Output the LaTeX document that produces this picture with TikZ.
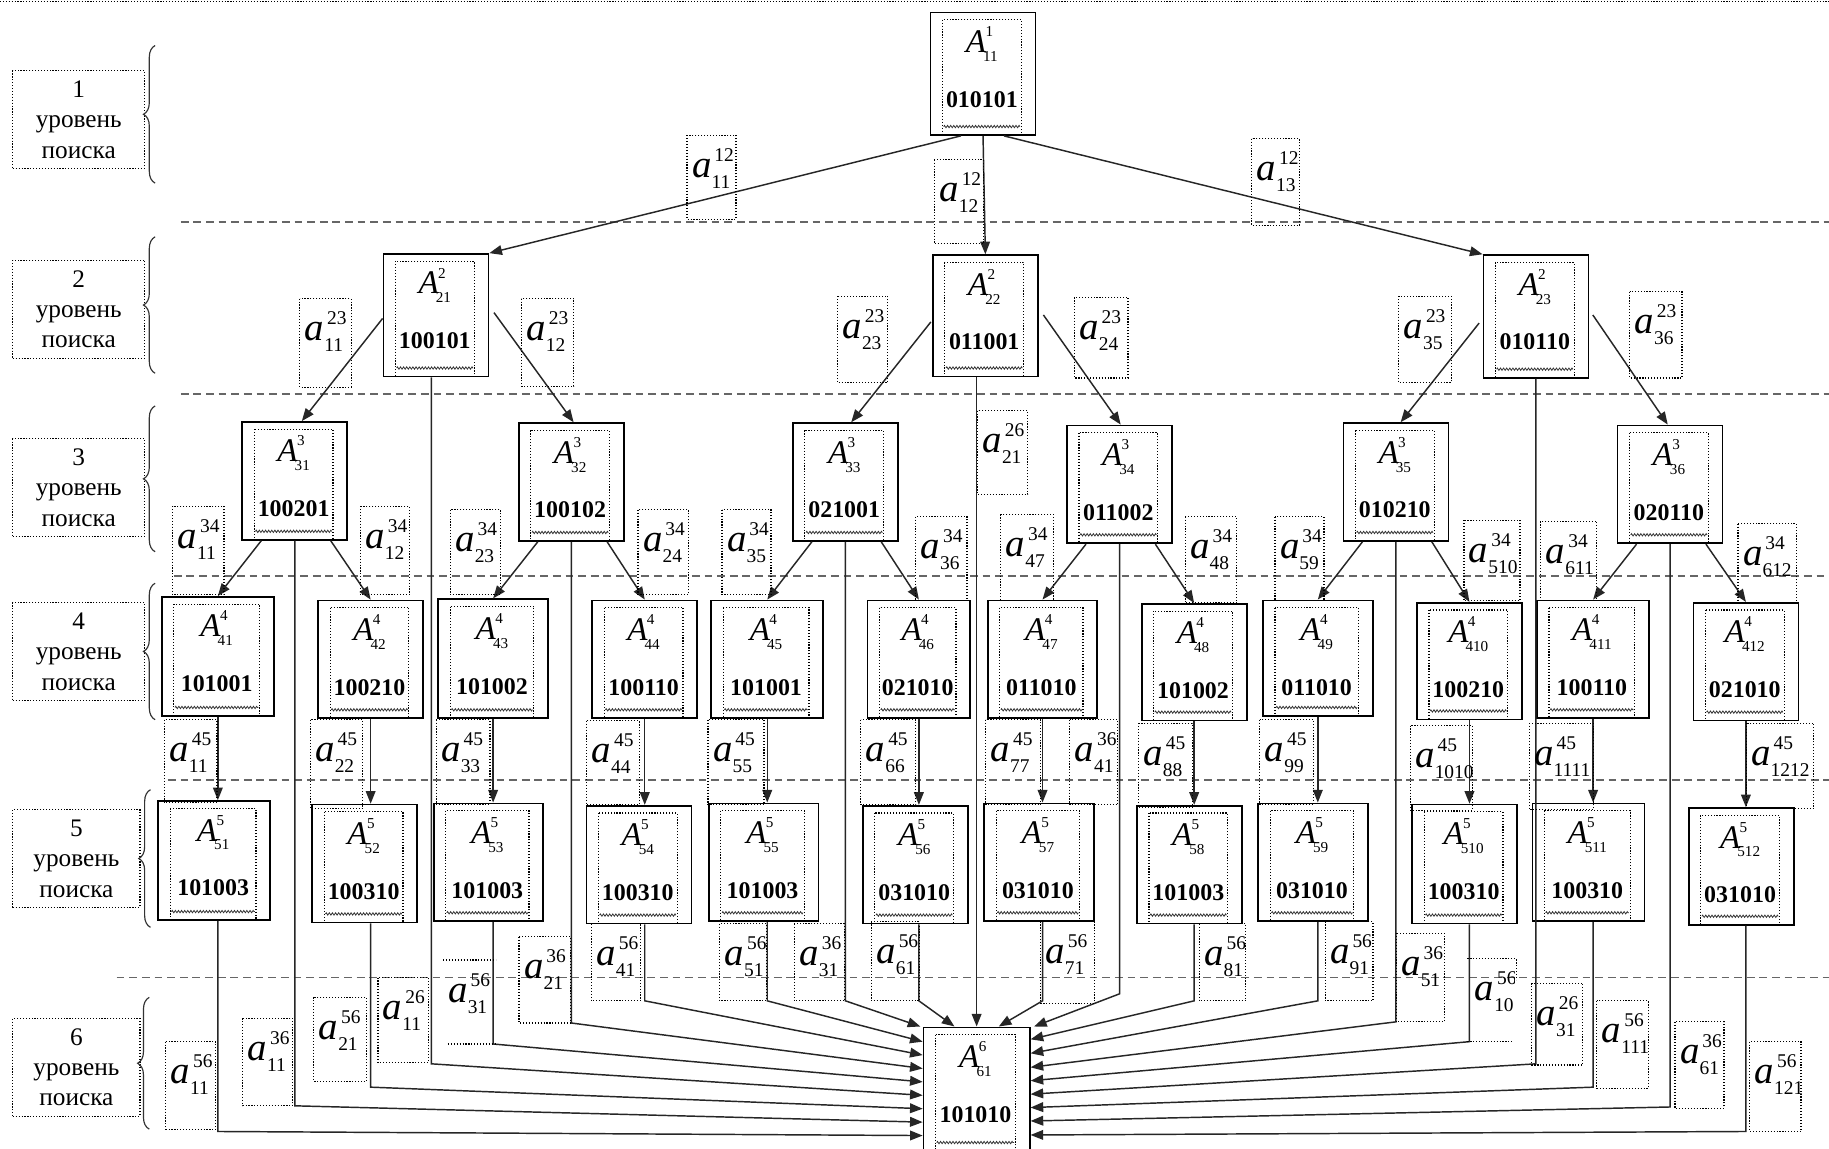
\documentclass[tikz,border=0pt]{standalone}
\usepackage{fontspec}
\setmainfont{Liberation Serif}
\usetikzlibrary{calc,arrows.meta,decorations.pathreplacing,decorations.pathmorphing}
\newcommand{\Alab}[2]{{\fontsize{17}{17}\selectfont\itshape A}\kern-1.5pt\rlap{\raisebox{8.2pt}{\fontsize{7.8}{8}\selectfont\kern1.2pt #1}}\raisebox{-4.6pt}{\fontsize{7.8}{8}\selectfont #2}}
\newcommand{\alab}[2]{{\fontsize{20}{20}\selectfont\itshape a}\rlap{\raisebox{8.2pt}{\fontsize{10}{10}\selectfont\kern1.5pt #1}}\raisebox{-5.7pt}{\fontsize{10}{10}\selectfont #2}}
\newcommand{\codefont}{\fontsize{12.3}{12.3}\selectfont\bfseries}
\tikzset{
  conn/.style={line width=0.75pt, draw=black!85},
  arr/.style={conn, -{Triangle[length=6.5pt,width=5pt]}},
  sep/.style={line width=1pt, draw=black!60, dash pattern=on 4pt off 2.5pt},
  frm/.style={draw=black, line width=0.6pt, dash pattern=on 0.6pt off 0.9pt},
  wavy/.style={draw=black!80, line width=0.4pt, decorate, decoration={zigzag, amplitude=0.6pt, segment length=1.6pt}},
  outerbox/.style={draw=black, fill=white, line width=0.9pt, inner sep=0pt},
  lvl/.style={frm, align=center, font=\fontsize{13}{15.6}\selectfont, minimum height=50.4pt, inner sep=0pt},
  brc/.style={draw=black!80, line width=0.6pt, decorate, decoration={brace, amplitude=6pt}},
}
\newcommand{\mybox}[8]{%
  \node[outerbox, anchor=north west, minimum width=#4*0.6pt, minimum height=#5*0.6pt] (#1) at (#2,#3) {};
  \draw[frm] ($(#1.north west)+(11,7)$) rectangle ($(#1.south east)+(-13,-1)$);
  \draw[wavy] ($(#1.south west)+(12,-8)$) -- ($(#1.south east)+(-14,-8)$);
  \node[anchor=base, inner sep=0pt] (#1-l) at ($(#1.north)+(-1,35)$) {\Alab{#6}{#7}};
  \node[anchor=base, inner sep=0pt, font=\codefont] (#1-c) at ($(#1.north)+(-1,82)$) {#8};
}
\newcommand{\mylab}[7]{%
  \draw[frm] (#2,#3) rectangle (#4,#5);
  \node[anchor=base west, inner sep=0pt] (#1) at ($(#2,#3)+(4,36)$) {\alab{#6}{#7}};
}
\newcommand{\mylev}[5]{%
  \node[lvl, minimum width=#4*0.6pt] (#1) at (#2,#3) {#5\\уровень\\поиска};
}
\newcommand{\myfeed}[4]{\draw[arr] (#1.south |- #2.south) -- (#1.south |- 0,#3) -- #4;}
\begin{document}
\begin{tikzpicture}[x=0.6pt,y=-0.6pt]
\clip (0,0) rectangle (1568,985);
\fill[white] (0,0) rectangle (1568,985);
\draw[frm] (0,1) -- (1568,1);
% separators
\draw[sep] (155,190) -- (1568,190);
\draw[sep] (155,338) -- (1568,338);
\draw[sep] (149,494) -- (1568,494);
\draw[sep] (144,669) -- (1568,669);
\draw[sep] (100,838) -- (1568,838);
% level labels
\mylev{L1}{67.5}{102.5}{113}{1}
\mylev{L2}{67.5}{265}{113}{2}
\mylev{L3}{67.5}{418}{113}{3}
\mylev{L4}{67.5}{558.5}{113}{4}
\mylev{L5}{65.5}{736}{109}{5}
\mylev{L6}{65.5}{915}{109}{6}
\draw[brc] (133,157) -- (133,39);
\draw[brc] (133,320) -- (133,203);
\draw[brc] (133,473) -- (133,348);
\draw[brc] (133,617) -- (133,500);
\draw[brc] (129,795) -- (129,677);
\draw[brc] (128,968) -- (128,855);
% boxes
\mybox{A11}{797}{10}{90}{105}{1}{11}{010101}
\mybox{A21}{328}{217}{90}{105}{2}{21}{100101}
\mybox{A22}{799}{218}{90}{104}{2}{22}{011001}
\mybox{A23}{1271}{218}{90}{105}{2}{23}{010110}
\mybox{A31}{207}{361}{90}{101}{3}{31}{100201}
\mybox{A32}{444}{362}{90}{101}{3}{32}{100102}
\mybox{A33}{679}{362}{90}{101}{3}{33}{021001}
\mybox{A34}{914}{364}{90}{101}{3}{34}{011002}
\mybox{A35}{1151}{362}{90}{101}{3}{35}{010210}
\mybox{A36}{1386}{364}{90}{101}{3}{36}{020110}
\mybox{A41}{138}{511}{96}{102}{4}{41}{101001}
\mybox{A42}{272}{514}{90}{101}{4}{42}{100210}
\mybox{A43}{375}{513}{94}{102}{4}{43}{101002}
\mybox{A44}{507}{514}{90}{101}{4}{44}{100110}
\mybox{A45}{609}{514}{96}{101}{4}{45}{101001}
\mybox{A46}{743}{514}{88}{101}{4}{46}{021010}
\mybox{A47}{846}{514}{94}{101}{4}{47}{011010}
\mybox{A48}{978}{517}{90}{100}{4}{48}{101002}
\mybox{A49}{1082}{514}{94}{99}{4}{49}{011010}
\mybox{A410}{1214}{516}{90}{100}{4}{410}{100210}
\mybox{A411}{1317}{514}{96}{101}{4}{411}{100110}
\mybox{A412}{1451}{516}{90}{101}{4}{412}{021010}
\mybox{A51}{135}{686}{96}{102}{5}{51}{101003}
\mybox{A52}{267}{689}{90}{101}{5}{52}{100310}
\mybox{A53}{371}{688}{94}{101}{5}{53}{101003}
\mybox{A54}{502}{690}{90}{101}{5}{54}{100310}
\mybox{A55}{607}{688}{94}{101}{5}{55}{101003}
\mybox{A56}{739}{690}{90}{101}{5}{56}{031010}
\mybox{A57}{843}{688}{94}{101}{5}{57}{031010}
\mybox{A58}{974}{690}{90}{101}{5}{58}{101003}
\mybox{A59}{1078}{688}{94}{101}{5}{59}{031010}
\mybox{A510}{1210}{689}{90}{102}{5}{510}{100310}
\mybox{A511}{1313}{688}{96}{101}{5}{511}{100310}
\mybox{A512}{1447}{692}{90}{100}{5}{512}{031010}
\mybox{A61}{791}{880}{91}{106}{6}{61}{101010}
% level 1 -> 2
\draw[arr] ($(A11.south)+(-19,0)$) -- (A21.north east);
\draw[arr] (A11.south) -- (A22.north);
\draw[arr] ($(A11.south)+(18,0)$) -- (A23.north west);
% level 2 -> 3
\draw[arr] ($(A21.north west)+(0,56)$) -- ($(A31.north)+(6,0)$);
\draw[arr] ($(A21.north east)+(4,51)$) -- ($(A32.north)+(2,0)$);
\draw[arr] ($(A22.north west)+(-1,58)$) -- ($(A33.north)+(5,0)$);
\draw[arr] ($(A22.north east)+(4,52)$) -- ($(A34.north)+(1,0)$);
\draw[arr] ($(A23.north west)+(-3,59)$) -- ($(A35.north)+(4,0)$);
\draw[arr] ($(A23.north east)+(3,52)$) -- ($(A36.north)+(-2,0)$);
% level 3 -> 4
\draw[arr] ($(A31.south west)+(17,0)$) -- (A41.north);
\draw[arr] ($(A31.south east)+(-15,0)$) -- (A42.north);
\draw[arr] ($(A32.south west)+(17,0)$) -- (A43.north);
\draw[arr] ($(A32.south east)+(-15,0)$) -- (A44.north);
\draw[arr] ($(A33.south west)+(17,0)$) -- (A45.north);
\draw[arr] ($(A33.south east)+(-15,0)$) -- (A46.north);
\draw[arr] ($(A34.south west)+(17,0)$) -- (A47.north);
\draw[arr] ($(A34.south east)+(-15,0)$) -- (A48.north);
\draw[arr] ($(A35.south west)+(17,0)$) -- (A49.north);
\draw[arr] ($(A35.south east)+(-15,0)$) -- (A410.north);
\draw[arr] ($(A36.south west)+(17,0)$) -- (A411.north);
\draw[arr] ($(A36.south east)+(-15,0)$) -- (A412.north);
% level 4 -> 5
\foreach \k in {1,2,3,4,5,6,7,8,9,10,11,12}{
  \draw[arr] (A4\k.south) -- (A4\k.south |- A5\k.north);
}
% into level 6
\draw[arr] (A61.north |- A22.south) -- (A61.north);
\myfeed{A46}{A56}{858}{($(A61.north)+(-19,0)$)}
\myfeed{A33}{A33}{858}{($(A61.north west)+(-2,0)$)}
\myfeed{A45}{A55}{858}{($(A61.north west)+(0,13)$)}
\myfeed{A44}{A54}{858}{($(A61.north west)+(0,24.5)$)}
\myfeed{A32}{A32}{877}{($(A61.north west)+(0,36)$)}
\myfeed{A43}{A53}{895}{($(A61.north west)+(0,47.5)$)}
\coordinate (A21d) at ($(A21.south)+(-4,0)$);
\draw[arr] (A21d) -- (A21d |- 0,912) -- ($(A61.north west)+(0,59)$);
\myfeed{A42}{A52}{932}{($(A61.north west)+(0,70.5)$)}
\myfeed{A31}{A31}{948}{($(A61.north west)+(0,82)$)}
\myfeed{A41}{A51}{970}{($(A61.north west)+(0,93.5)$)}
\myfeed{A47}{A57}{858}{($(A61.north)+(19,0)$)}
\myfeed{A34}{A34}{852}{($(A61.north east)+(3,0)$)}
\myfeed{A48}{A58}{858}{($(A61.north east)+(0,11)$)}
\myfeed{A49}{A59}{858}{($(A61.north east)+(0,23)$)}
\myfeed{A35}{A35}{876}{($(A61.north east)+(0,35)$)}
\myfeed{A410}{A510}{893}{($(A61.north east)+(0,46.5)$)}
\myfeed{A23}{A23}{912}{($(A61.north east)+(0,58)$)}
\myfeed{A411}{A511}{932}{($(A61.north east)+(0,69.5)$)}
\myfeed{A36}{A36}{949}{($(A61.north east)+(0,81)$)}
\myfeed{A412}{A512}{970}{($(A61.north east)+(0,93)$)}
% edge labels
\mylab{b1211}{589}{116}{631}{188}{12}{11}
\mylab{b1212}{801}{137}{843}{209}{12}{12}
\mylab{b1213}{1073}{119}{1114}{193}{12}{13}
\mylab{b2311}{257}{256}{301}{332}{23}{11}
\mylab{b2312}{447}{256}{492}{331}{23}{12}
\mylab{b2323}{718}{254}{761}{328}{23}{23}
\mylab{b2324}{921}{255}{967}{324}{23}{24}
\mylab{b2335}{1199}{254}{1244}{328}{23}{35}
\mylab{b2336}{1397}{250}{1442}{324}{23}{36}
\mylab{b2621}{838}{352}{881}{424}{26}{21}
\mylab{b3411}{148}{434}{192}{510}{34}{11}
\mylab{b3412}{309}{434}{351}{510}{34}{12}
\mylab{b3423}{386}{437}{429}{510}{34}{23}
\mylab{b3424}{547}{437}{590}{510}{34}{24}
\mylab{b3435}{619}{437}{661}{510}{34}{35}
\mylab{b3436}{785}{443}{829}{515}{34}{36}
\mylab{b3447}{858}{441}{903}{515}{34}{47}
\mylab{b3448}{1016}{443}{1060}{517}{34}{48}
\mylab{b3459}{1093}{443}{1135}{515}{34}{59}
\mylab{b34510}{1255}{446}{1303}{515}{34}{510}
\mylab{b34611}{1321}{447}{1369}{515}{34}{611}
\mylab{b34612}{1490}{449}{1540}{517}{34}{612}
\mylab{b4511}{141}{617}{186}{688}{45}{11}
\mylab{b4522}{266}{617}{311}{693}{45}{22}
\mylab{b4533}{374}{617}{420}{690}{45}{33}
\mylab{b4544}{503}{618}{548}{690}{45}{44}
\mylab{b4555}{607}{617}{655}{690}{45}{55}
\mylab{b4566}{738}{617}{785}{690}{45}{66}
\mylab{b4577}{845}{617}{892}{690}{45}{77}
\mylab{b3641}{917}{617}{958}{690}{36}{41}
\mylab{b4588}{976}{620}{1022}{692}{45}{88}
\mylab{b4599}{1080}{617}{1126}{690}{45}{99}
\mylab{b451010}{1209}{622}{1262}{695}{45}{1010}
\mylab{b451111}{1311}{620}{1366}{694}{45}{1111}
\mylab{b451212}{1497}{620}{1555}{693}{45}{1212}
\mylab{b5641}{507}{792}{549}{858}{56}{41}
\mylab{b5651}{617}{792}{657}{858}{56}{51}
\mylab{b3631}{681}{792}{724}{858}{36}{31}
\mylab{b5661}{747}{790}{788}{858}{56}{61}
\mylab{b5671}{892}{790}{938}{860}{56}{71}
\mylab{b5681}{1028}{792}{1068}{858}{56}{81}
\mylab{b5691}{1136}{790}{1177}{858}{56}{91}
\mylab{b3651}{1197}{800}{1238}{876}{36}{51}
\mylab{b2631}{1313}{843}{1357}{913}{26}{31}
\mylab{b56111}{1369}{858}{1413}{933}{56}{111}
\mylab{b3661}{1436}{876}{1478}{950}{36}{61}
\mylab{b56121}{1500}{893}{1544}{970}{56}{121}
\mylab{b3621}{445}{803}{489}{877}{36}{21}
\mylab{b2611}{324}{838}{367}{911}{26}{11}
\mylab{b5621}{269}{855}{314}{927}{56}{21}
\mylab{b3611}{208}{873}{251}{948}{36}{11}
\mylab{b5611}{142}{893}{185}{968}{56}{11}
% partial frames
\draw[frm] (380,823) -- (425,823);
\draw[frm] (384,895) -- (425,895);
\node[anchor=base west, inner sep=0pt] (b5631) at (384,859) {\alab{56}{31}};
\draw[frm] (1258,822) -- (1300,822) -- (1300,840);
\draw[frm] (1258,893) -- (1297,893);
\begin{scope}
\clip (1250,800) rectangle (1298,900);
\node[anchor=base west, inner sep=0pt] (b56101) at (1264,858) {\alab{56}{101}};
\end{scope}
\end{tikzpicture}
\end{document}
